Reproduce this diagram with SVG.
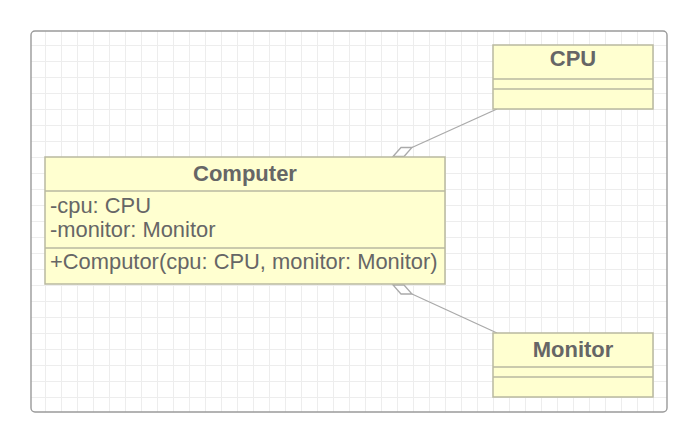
<svg xmlns="http://www.w3.org/2000/svg" width="699" height="443" viewBox="0 0 699 443">
  <defs>
    <pattern id="grid" patternUnits="userSpaceOnUse" x="13" y="13" width="16" height="16">
      <path d="M0.5 0 V16 M0 0.5 H16" stroke="#ededed" stroke-width="1" fill="none"/>
    </pattern>
    <clipPath id="frameClip">
      <rect x="31" y="31" width="636" height="381" rx="4"/>
    </clipPath>
  </defs>
  <style>
    .box { fill: #ffffd0; stroke: #b9b9a0; stroke-width: 1.5; }
    .sep { stroke: #b9b9a0; stroke-width: 1.5; }
    .title { font-family: "Liberation Sans", Arial, sans-serif; font-weight: bold; font-size: 22px; fill: #666; text-anchor: middle; }
    .member { font-family: "Liberation Sans", Arial, sans-serif; font-size: 21.9px; fill: #666; }
    .conn { stroke: #aaa; stroke-width: 1.3; fill: none; }
    .diamond { stroke: #aaa; stroke-width: 1.3; fill: #fff; }
  </style>
  <rect width="699" height="443" fill="#fff"/>
  <rect x="31" y="31" width="636" height="381" fill="url(#grid)" clip-path="url(#frameClip)"/>
  <rect x="31" y="31" width="636" height="381" rx="4" fill="none" stroke="#9a9a9a" stroke-width="1.4"/>

  <g id="connectors">
    <line class="conn" x1="412" y1="147.5" x2="497" y2="109"/>
    <polygon class="diamond" points="393,156.5 401,147.5 412,147.5 404,156.5"/>
    <line class="conn" x1="412" y1="294" x2="497" y2="333"/>
    <polygon class="diamond" points="393,285 404,285 412,294 401,294"/>
  </g>

  <g id="Computer">
    <rect class="box" x="45" y="157" width="400" height="127"/>
    <line class="sep" x1="45" y1="191" x2="445" y2="191"/>
    <line class="sep" x1="45" y1="248" x2="445" y2="248"/>
    <text class="title" x="245" y="181">Computer</text>
    <text class="member" x="50" y="213">-cpu: CPU</text>
    <text class="member" x="50" y="237">-monitor: Monitor</text>
    <text class="member" x="50" y="269">+Computor(cpu: CPU, monitor: Monitor)</text>
  </g>

  <g id="CPU">
    <rect class="box" x="493" y="45" width="160" height="64"/>
    <line class="sep" x1="493" y1="79" x2="653" y2="79"/>
    <line class="sep" x1="493" y1="89" x2="653" y2="89"/>
    <text class="title" x="573" y="66">CPU</text>
  </g>

  <g id="Monitor">
    <rect class="box" x="493" y="333" width="160" height="64"/>
    <line class="sep" x1="493" y1="367" x2="653" y2="367"/>
    <line class="sep" x1="493" y1="377" x2="653" y2="377"/>
    <text class="title" x="573" y="357">Monitor</text>
  </g>
</svg>
